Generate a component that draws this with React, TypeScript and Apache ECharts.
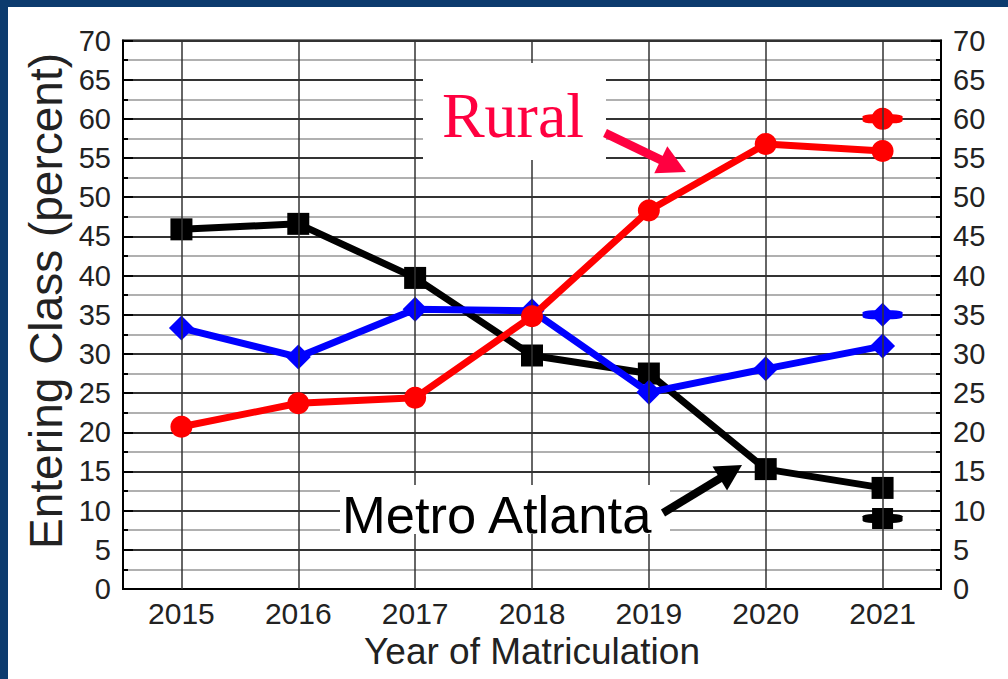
import React, { useEffect, useRef } from "react";
import * as echarts from "echarts";

const years = ["2015", "2016", "2017", "2018", "2019", "2020", "2021"];
const metroAtlanta = [45.9, 46.6, 39.7, 29.8, 27.5, 15.3, 12.9];
const otherRegions = [33.3, 29.6, 35.7, 35.5, 25.1, 28.1, 31.0];
const rural = [20.7, 23.7, 24.4, 34.8, 48.3, 56.8, 55.9];
const targetYear = "2021";
const metroTarget = 9;
const otherTarget = 35;
const ruralTarget = 60;
const yTicks = { min: 0, max: 70, interval: 5 };

const SANS = "'Liberation Sans', Arial, sans-serif";
const SERIF = "'Liberation Serif', 'Times New Roman', serif";

function arrow(x1: number, y1: number, x2: number, y2: number, color: string, w: number, headLen: number, headW: number) {
  const dx = x2 - x1, dy = y2 - y1;
  const L = Math.hypot(dx, dy);
  const ux = dx / L, uy = dy / L;
  const px = -uy, py = ux;
  const bx = x2 - ux * headLen, by = y2 - uy * headLen;
  return [
    { type: "line", z: 100, shape: { x1, y1, x2: bx + ux * 2, y2: by + uy * 2 }, style: { stroke: color, lineWidth: w } },
    {
      type: "polygon", z: 100,
      shape: { points: [[x2, y2], [bx + (px * headW) / 2, by + (py * headW) / 2], [bx - (px * headW) / 2, by - (py * headW) / 2]] },
      style: { fill: color },
    },
  ];
}

export default function App() {
  const ref = useRef<HTMLDivElement>(null);
  useEffect(() => {
    if (!ref.current) return;
    const chart = echarts.init(ref.current, null, { renderer: "svg" });
    const yAxisBase = (pos: "left" | "right") => ({
      type: "value",
      position: pos,
      min: yTicks.min,
      max: yTicks.max,
      interval: yTicks.interval,
      axisLine: { show: true, lineStyle: { color: "#000", width: 2 } },
      axisTick: { show: true, inside: true, length: 10, lineStyle: { color: "#000", width: 2 } },
      minorTick: { show: true, splitNumber: 2, length: 5, lineStyle: { color: "#000", width: 2 } },
      axisLabel: { fontSize: 29, color: "#222", fontFamily: SANS, margin: 12 },
      splitLine: { show: pos === "left", lineStyle: { color: "#333", width: 2 } },
      minorSplitLine: { show: pos === "left", lineStyle: { color: "#b0b0b0", width: 2 } },
    });
    const option: any = {
      animation: false,
      backgroundColor: "#fff",
      grid: { left: 123, top: 40.5, right: 67, bottom: 90, show: true, borderColor: "#000", borderWidth: 2 },
      xAxis: {
        type: "category",
        data: years,
        boundaryGap: true,
        axisLine: { show: true, lineStyle: { color: "#000", width: 2 } },
        axisTick: { show: false },
        axisLabel: { fontSize: 30, color: "#222", fontFamily: SANS, margin: 9 },
        splitLine: { show: false },
        name: "Year of Matriculation",
        nameLocation: "middle",
        nameGap: 43,
        nameTextStyle: { fontSize: 37, color: "#222", fontFamily: SANS },
      },
      yAxis: [yAxisBase("left"), yAxisBase("right")],
      series: [
        {
          name: "grid",
          type: "line",
          data: [],
          z: 1,
          markLine: {
            silent: true,
            symbol: ["none", "none"],
            label: { show: false },
            lineStyle: { color: "#333", width: 1.5, type: "solid" },
            data: years.map((y) => ({ xAxis: y })),
          },
        },
        {
          name: "Metro Atlanta",
          type: "line",
          data: metroAtlanta,
          z: 3,
          symbol: "rect",
          symbolSize: 22,
          lineStyle: { color: "#000", width: 7 },
          itemStyle: { color: "#000" },
        },
        {
          name: "Other",
          type: "line",
          data: otherRegions,
          z: 4,
          symbol: "diamond",
          symbolSize: 25,
          lineStyle: { color: "#0000ff", width: 7 },
          itemStyle: { color: "#0000ff" },
        },
        {
          name: "Rural",
          type: "line",
          data: rural,
          z: 5,
          symbol: "circle",
          symbolSize: 22,
          lineStyle: { color: "#ff0000", width: 7 },
          itemStyle: { color: "#ff0000" },
        },
        ...[
          { name: "Metro Atlanta target", v: metroTarget, c: "#000", s: "rect", sz: 21 },
          { name: "Other target", v: otherTarget, c: "#0000ff", s: "diamond", sz: 24 },
          { name: "Rural target", v: ruralTarget, c: "#ff0000", s: "circle", sz: 22 },
        ].flatMap((t) => [
          {
            name: t.name + " bar",
            type: "scatter",
            z: 3,
            data: [[targetYear, t.v]],
            symbol: "roundRect",
            symbolSize: [40, 9],
            itemStyle: { color: t.c, opacity: 1 },
          },
          {
            name: t.name,
            type: "scatter",
            z: 4,
            data: [[targetYear, t.v]],
            symbol: t.s,
            symbolSize: t.sz,
            itemStyle: { color: t.c, opacity: 1 },
          },
        ]),
      ],
      graphic: [
        { type: "rect", z: 200, shape: { x: 0, y: 0, width: 1008, height: 7 }, style: { fill: "#0c3b6e" } },
        { type: "rect", z: 200, shape: { x: 0, y: 0, width: 8, height: 679 }, style: { fill: "#0c3b6e" } },
        {
          type: "text", z: 50, x: 46, y: 301, rotation: Math.PI / 2,
          style: { text: "Entering Class (percent)", fontSize: 46, fill: "#222", fontFamily: SANS, align: "center", verticalAlign: "middle" },
        },
        { type: "rect", z: 90, shape: { x: 423, y: 63, width: 183, height: 97 }, style: { fill: "#fff" } },
        {
          type: "text", z: 95, x: 513, y: 115,
          style: { text: "Rural", fontSize: 64, fill: "#ff0040", fontFamily: SERIF, align: "center", verticalAlign: "middle" },
        },
        ...arrow(605, 133, 686, 172, "#ff0040", 9, 28, 30),
        { type: "rect", z: 90, shape: { x: 340, y: 485, width: 330, height: 49 }, style: { fill: "#fff" } },
        {
          type: "text", z: 95, x: 342, y: 514,
          style: { text: "Metro Atlanta", fontSize: 52.5, fill: "#000", fontFamily: SANS, align: "left", verticalAlign: "middle" },
        },
        ...arrow(663, 513, 742, 465, "#000", 8, 26, 28),
      ],
    };
    chart.setOption(option);
    return () => chart.dispose();
  }, []);
  return <div ref={ref} style={{ position: "absolute", left: 0, top: 0, width: 1008, height: 679 }} />;
}
